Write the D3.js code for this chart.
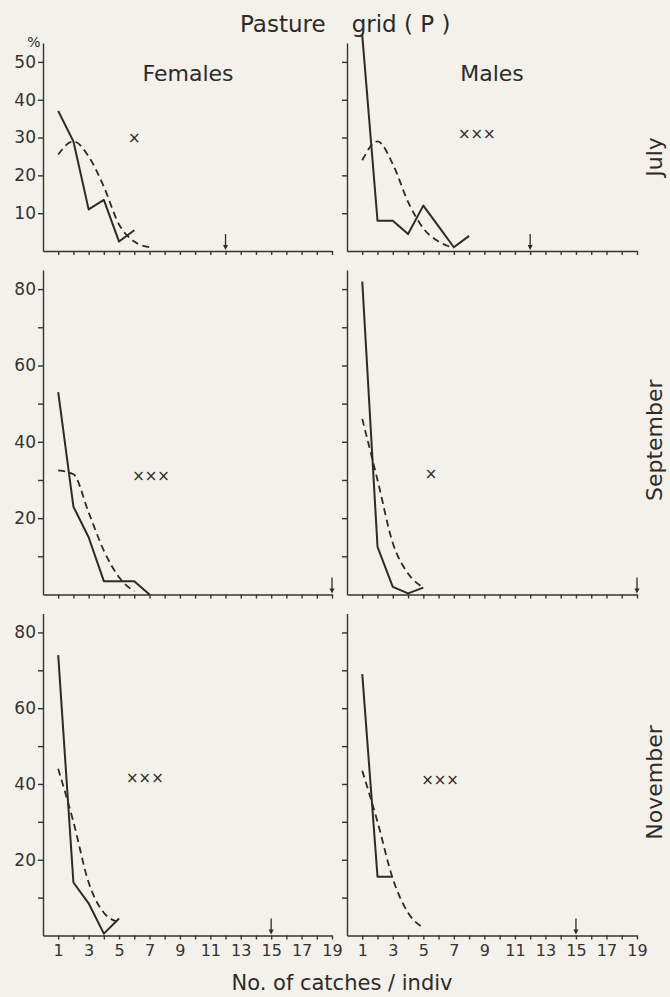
<!DOCTYPE html>
<html>
<head>
<meta charset="utf-8">
<script src="https://cdn.jsdelivr.net/npm/d3@7"></script>
<style>
  html, body { margin: 0; padding: 0; background: #f3f1ea; }
  svg { display: block; font-family: "DejaVu Sans", sans-serif; }
  .axis path, .axis line { stroke: #333; stroke-width: 1.4; }
  .axis text { fill: #333; font-size: 16px; font-family: "DejaVu Sans", sans-serif; }
</style>
</head>
<body>
<div class="chart"></div>
<script>
// catches per individual (x = 1, 2, 3 ...), percent of individuals
const months = ["July", "September", "November"];
const sexes = ["Females", "Males"];
const xTickValues = d3.range(1, 20);

// solid = observed, dashed = expected
const julyFemObs  = [37, 29, 11, 13.5, 2.5, 5.5];
const julyFemExp  = [25.5, 29, 25, 17, 7, 2.5, 1];
const julyMaleObs = [57, 8, 8, 4.5, 12, 6.5, 1, 4];
const julyMaleExp = [24, 29, 23, 13, 6, 2.5, 0.8];
const septFemObs  = [53, 23, 15, 3.5, 3.5, 3.5, 0];
const septFemExp  = [32.5, 31.5, 21.5, 11.5, 4.5, 0.8];
const septMaleObs = [82, 12.5, 2, 0.3, 1.8];
const septMaleExp = [46, 30, 13.5, 5.5, 1.8];
const novFemObs   = [74, 14, 8.5, 0.5, 4.5];
const novFemExp   = [44, 30, 14, 6, 3.5];
const novMaleObs  = [69, 15.5, 15.5];
const novMaleExp  = [43.5, 30, 15, 6, 2];

// significance marks [x, y, label]
const julyFemMark  = [6, 30, "×"];
const julyMaleMark = [8.5, 31, "×××"];
const septFemMark  = [7.1, 31, "×××"];
const septMaleMark = [5.5, 31.5, "×"];
const novFemMark   = [6.7, 41.5, "×××"];
const novMaleMark  = [6.1, 41, "×××"];

// arrow position on the x axis, per month
const arrowX = [12, 19, 15];

const yMaxes = [55, 85, 85];
const yTicksTop = [10, 20, 30, 40, 50];
const yTicksLow = [10, 20, 30, 40, 50, 60, 70, 80];
const yLabelsTop = [10, 20, 30, 40, 50];
const yLabelsLow = [20, 40, 60, 80];

const panels = [
    [{obs: julyFemObs, exp: julyFemExp, mark: julyFemMark}, {obs: julyMaleObs, exp: julyMaleExp, mark: julyMaleMark}],
    [{obs: septFemObs, exp: septFemExp, mark: septFemMark}, {obs: septMaleObs, exp: septMaleExp, mark: septMaleMark}],
    [{obs: novFemObs, exp: novFemExp, mark: novFemMark}, {obs: novMaleObs, exp: novMaleExp, mark: novMaleMark}]
];

const width = 670, height = 997;
const ink = "#2b2b2b";
const colRanges = [[43, 332], [347, 637]];
const rowBottoms = [251, 594.5, 935.5];
const rowTops = [43, 270, 613.5];

const svg = d3.select('.chart').append('svg')
    .attr('width', width)
    .attr('height', height)
    .attr('viewBox', '0 0 ' + width + ' ' + height);

months.forEach((month, r) => {
    const y = d3.scaleLinear().domain([0, yMaxes[r]]).range([rowBottoms[r], rowTops[r]]);
    const ticks = r === 0 ? yTicksTop : yTicksLow;
    const labels = r === 0 ? yLabelsTop : yLabelsLow;

    sexes.forEach((sex, c) => {
        const x = d3.scaleLinear().domain([0, 19]).range(colRanges[c]);
        const p = panels[r][c];

        // x axis
        svg.append('g')
            .attr('class', 'axis')
            .attr('transform', 'translate(0,' + y(0) + ')')
            .call(d3.axisBottom(x)
                .tickValues(xTickValues)
                .tickSize(4)
                .tickSizeOuter(0)
                .tickPadding(5)
                .tickFormat(d => (r === 2 && d % 2 === 1) ? d : ''));

        // y axis
        svg.append('g')
            .attr('class', 'axis')
            .attr('transform', 'translate(' + x(0) + ',0)')
            .call(d3.axisLeft(y)
                .tickValues(ticks)
                .tickSize(5)
                .tickSizeOuter(0)
                .tickPadding(2)
                .tickFormat(d => (c === 0 && labels.includes(d)) ? d : ''))
            .selectAll('text').style('font-size', '17px');

        const line = d3.line()
            .x((d, i) => x(i + 1))
            .y(d => y(d));

        svg.append('path')
            .datum(p.exp)
            .attr('fill', 'none')
            .attr('stroke', ink)
            .attr('stroke-width', 1.8)
            .attr('stroke-dasharray', '7,4.5')
            .attr('d', line.curve(d3.curveMonotoneX));

        svg.append('path')
            .datum(p.obs)
            .attr('fill', 'none')
            .attr('stroke', ink)
            .attr('stroke-width', 2)
            .attr('stroke-linejoin', 'round')
            .attr('d', line.curve(d3.curveLinear));

        // significance mark
        svg.append('text')
            .attr('x', x(p.mark[0]))
            .attr('y', y(p.mark[1]))
            .attr('text-anchor', 'middle')
            .attr('dominant-baseline', 'central')
            .attr('fill', ink)
            .style('font-size', '15px')
            .text(p.mark[2]);

        // arrow at the axis
        const ax = x(arrowX[r]), ay = y(0);
        svg.append('line')
            .attr('x1', ax).attr('x2', ax)
            .attr('y1', ay - 17).attr('y2', ay - 3)
            .attr('stroke', ink).attr('stroke-width', 1.3);
        svg.append('path')
            .attr('d', 'M' + (ax - 2.5) + ',' + (ay - 6) + 'L' + ax + ',' + (ay - 1) + 'L' + (ax + 2.5) + ',' + (ay - 6) + 'Z')
            .attr('fill', ink);

        if (r === 0) {
            svg.append('text')
                .attr('x', c === 0 ? 188 : 492)
                .attr('y', 81)
                .attr('text-anchor', 'middle')
                .attr('fill', ink)
                .style('font-size', '22px')
                .text(sex);
        }
    });

    // month label on the right
    const cy = (rowBottoms[r] + rowTops[r]) / 2 + (r === 0 ? 10 : 8);
    svg.append('text')
        .attr('transform', 'translate(662,' + cy + ') rotate(-90)')
        .attr('text-anchor', 'middle')
        .attr('fill', ink)
        .style('font-size', '22px')
        .text(month);
});

// title
const title = svg.append('text')
    .attr('x', 240)
    .attr('y', 32)
    .attr('fill', ink)
    .style('font-size', '23px');
title.append('tspan').text('Pasture');
title.append('tspan').attr('dx', 26).text('grid ( P )');

svg.append('text')
    .attr('x', 34)
    .attr('y', 47)
    .attr('text-anchor', 'middle')
    .attr('fill', ink)
    .style('font-size', '14px')
    .text('%');

svg.append('text')
    .attr('x', 342)
    .attr('y', 990)
    .attr('text-anchor', 'middle')
    .attr('fill', ink)
    .style('font-size', '21px')
    .text('No. of catches / indiv');
</script>
</body>
</html>
